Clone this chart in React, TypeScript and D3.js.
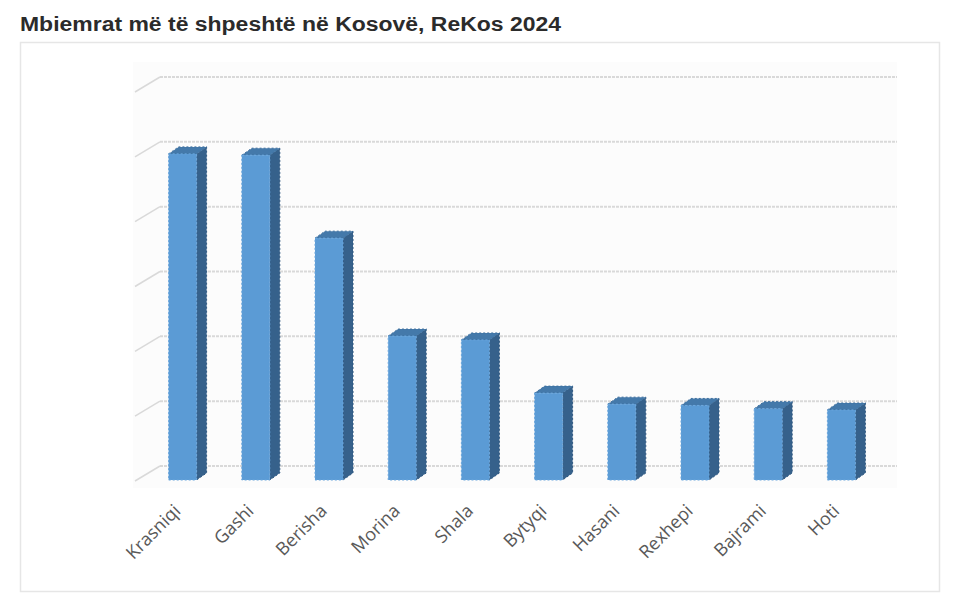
import React from "react";
import * as d3 from "d3";

const categories = ["Krasniqi", "Gashi", "Berisha", "Morina", "Shala", "Bytyqi", "Hasani", "Rexhepi", "Bajrami", "Hoti"];
const values = [50.3, 50.1, 37.3, 22.2, 21.6, 13.4, 11.7, 11.5, 11.0, 10.8];
const gridTicks = [0, 10, 20, 30, 40, 50, 60];
const title = "Mbiemrat më të shpeshtë në Kosovë, ReKos 2024";

const W = 980;
const H = 611;

export default function App() {
  const y = d3.scaleLinear().domain([0, 60]).range([466, 77]);
  const x = d3.scaleBand<string>().domain(categories).range([146, 878]).padding(0);
  const barW = 28;
  const dx = 10;
  const dy = -7;
  const frontShift = 14;
  const wallLeft = 160;
  const wallRight = 897;
  const floorDx = 25;
  const floorDy = 15;

  return (
    <svg width={W} height={H} style={{ position: "absolute", left: 0, top: 0, background: "#fff" }}
      fontFamily="'Liberation Sans', Arial, sans-serif">
      <rect x={20.5} y={42.5} width={919} height={549} fill="#fff" stroke="#e6e6e6" strokeWidth={1.5} />
      <text x={20} y={31} fontSize={20} fontWeight="bold" fill="#2b2b2b" textLength={541} lengthAdjust="spacingAndGlyphs">{title}</text>
      <rect x={133} y={62} width={wallRight - 133} height={426} fill="#fcfcfc" />
      {gridTicks.map((t) => (
        <g key={t}>
          <line x1={wallLeft} x2={wallRight} y1={y(t)} y2={y(t)} stroke="#d9d9d9" strokeWidth={2} strokeDasharray="3 1" />
          <line x1={wallLeft - floorDx} x2={wallLeft} y1={y(t) + floorDy} y2={y(t)} stroke="#d9d9d9" strokeWidth={1.5} />
        </g>
      ))}
      {categories.map((c, i) => {
        const v = values[i];
        const cx = (x(c) as number) + x.bandwidth() / 2;
        const x0 = cx - barW / 2;
        const x1 = cx + barW / 2;
        const top = y(v) + frontShift;
        const base = y(0) + frontShift;
        return (
          <g key={c}>
            <polygon
              points={`${x1},${top} ${x1 + dx},${top + dy} ${x1 + dx},${base + dy} ${x1},${base}`}
              fill="#36618b" stroke="#2f5880" strokeWidth={1} strokeDasharray="2 2"
            />
            <polygon
              points={`${x0},${top} ${x0 + dx},${top + dy} ${x1 + dx},${top + dy} ${x1},${top}`}
              fill="#4479aa" stroke="#3d6f9e" strokeWidth={1} strokeDasharray="2 2"
            />
            <rect x={x0} y={top} width={barW} height={base - top} fill="#5b9bd5" stroke="#6aa6dc" strokeWidth={1} strokeDasharray="2 2" />
            <text
              transform={`translate(${cx - 1},${base + 32}) rotate(-45)`}
              textAnchor="end"
              fontSize={18}
              fill="#595959"
              fontFamily="'Open Sans', 'Noto Sans', sans-serif"
            >
              {c}
            </text>
          </g>
        );
      })}
    </svg>
  );
}
